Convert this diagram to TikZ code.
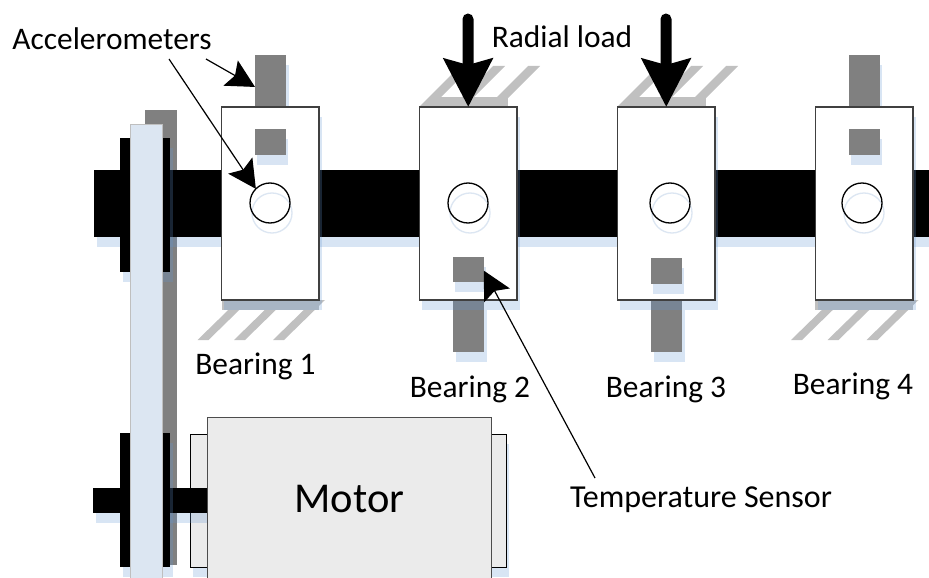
\documentclass[tikz,border=0pt]{standalone}
\usepackage{fontspec}
\setmainfont{Carlito}
\usetikzlibrary{positioning,arrows.meta,shadows}
\definecolor{shadeblue}{RGB}{100,150,210}
\definecolor{beltblue}{RGB}{220,230,242}
\definecolor{rodgrey}{RGB}{128,128,128}
\definecolor{hatchgrey}{RGB}{192,192,192}
\definecolor{motorgrey}{RGB}{235,235,235}
\tikzset{dropshade/.style={drop shadow={shadow xshift=2.5pt,shadow yshift=-10pt,fill=shadeblue,opacity=.25}},
	 solid box/.style={rectangle,inner sep=0pt,outer sep=0pt},
	 bearing/.style={solid box,draw=black!75,line width=1.3pt,fill=white,minimum width=97.5pt,minimum height=193pt,dropshade},
	 rod/.style={solid box,fill=rodgrey,minimum width=31pt,minimum height=52pt,dropshade},
	 sensor/.style={solid box,fill=rodgrey,minimum width=31pt,minimum height=25.5pt,dropshade},
	 hole/.style={circle,draw=black,line width=1.3pt,inner sep=0pt,outer sep=0pt,minimum size=40pt},
	 holeshade/.style={circle,draw=beltblue,line width=1.3pt,inner sep=0pt,minimum size=40pt},
	 pulley/.style={solid box,fill=black,minimum width=50pt,minimum height=134pt,dropshade},
	 lbl/.style={inner sep=0pt,outer sep=0pt,font=\fontsize{31.4}{38}\selectfont},
	 thin arrow/.style={line width=1.2pt,-{Stealth[length=28pt,width=29pt,inset=5pt]}},
	 load arrow/.style={line width=11pt,line cap=round,-{Stealth[length=48pt,width=48pt,inset=6pt]}},
	 node distance = 100.5pt
	 }
\begin{document}
\begin{tikzpicture}[x=1pt,y=-1pt] % one unit is one pixel of the reference
	\path[use as bounding box,clip] (0,0) rectangle (929,578);
	% belt and shaft
	\node[solid box,fill=rodgrey,minimum width=32pt,minimum height=455pt] (backbelt) at (160.5,337.5) {};
	\node[solid box,fill=black,minimum width=900pt,minimum height=67pt,dropshade] (shaft) at (544,203.5) {};
	\node[pulley] (upulley) at (145,205) {};
	\node[solid box,draw=black,line width=.8pt,fill=motorgrey,minimum width=316pt,minimum height=133pt,dropshade] (endcap) at (348,500.5) {};
	\node[solid box,fill=black,minimum width=114pt,minimum height=25pt,dropshade] (lshaft) at (150,500.5) {};
	\node[pulley] (lpulley) at (145,500) {};
	\node[solid box,draw=black!25,line width=.8pt,fill=beltblue,minimum width=32pt,minimum height=470pt] (frontbelt) at (146,359) {};
	% hatching
	\foreach \x in {0,198} {
		\fill[hatchgrey] (430+\x,97) rectangle (508+\x,107);
		\foreach \s in {419,452,487}
			\fill[hatchgrey] (\s+\x,107) -- (\s+41+\x,66) -- (\s+53+\x,66) -- (\s+12+\x,107) -- cycle;
	}
	\foreach \x in {0,593.5} {
		\fill[hatchgrey] (221.5+\x,300) rectangle (319+\x,310);
		\foreach \s in {197.5,234,273}
			\fill[hatchgrey] (\s+\x,340) -- (\s+41+\x,300) -- (\s+52+\x,300) -- (\s+11+\x,340) -- cycle;
	}
	% rods
	\node[rod] (rod1) at (270.5,81) {};
	\node[rod] (rod2) at (468.5,326) {};
	\node[rod] (rod3) at (666.5,326) {};
	\node[rod] (rod4) at (864,81) {};
	% bearings
	\node[bearing] (b1) at (270.25,203.5) {};
	\node[bearing] (b2) [right=of b1] {};
	\node[bearing] (b3) [right=of b2] {};
	\node[bearing] (b4) [right=of b3] {};
	\node[sensor] (s1) [below=22pt of b1.north] {};
	\node[sensor] (s2) [above=18pt of b2.south] {};
	\node[sensor] (s3) [above=16.5pt of b3.south] {};
	\node[sensor] (s4) [below=22pt of b4.north] {};
	\foreach \n/\x in {1/270,2/468,3/670,4/862} {
		\node[holeshade] (hs\n) at (\x+2,213) {};
		\node[hole] (h\n) at (\x,203) {};
	}
	% motor
	\node[solid box,draw=black!70,line width=1pt,fill=motorgrey,minimum width=284pt,minimum height=226pt] (motor) at (349,530) {};
	% labels
	\node[lbl,font=\fontsize{42.5}{50}\selectfont] (mlabel) at (349.5,499) {Motor};
	\node[lbl] (acc) at (112,38.5) {Accelerometers};
	\node[lbl] (load) at (562,36.5) {Radial load};
	\node[lbl,font=\fontsize{32}{38}\selectfont] (temp) at (701,500) {Temperature Sensor};
	\node[lbl] (bl1) at (255.5,366) {Bearing 1};
	\node[lbl] (bl2) at (470,389) {Bearing 2};
	\node[lbl] (bl3) at (666,389) {Bearing 3};
	\node[lbl] (bl4) at (853,386) {Bearing 4};
	% arrows
	\coordinate (acc1) at (206,59);
	\coordinate (acc2) at (169,59);
	\coordinate (tmp1) at (595,478);
	\coordinate (f2) at (468,19);
	\coordinate (f3) at (666,19);
	\draw[thin arrow] (acc1) to (rod1.201);
	\draw[thin arrow] (acc2) to (h1.135);
	\draw[thin arrow] (tmp1) to (s2.-5);
	\draw[load arrow] (f2) to (b2.north);
	\draw[load arrow] (f3) to (b3.north);
\end{tikzpicture}
\end{document}
